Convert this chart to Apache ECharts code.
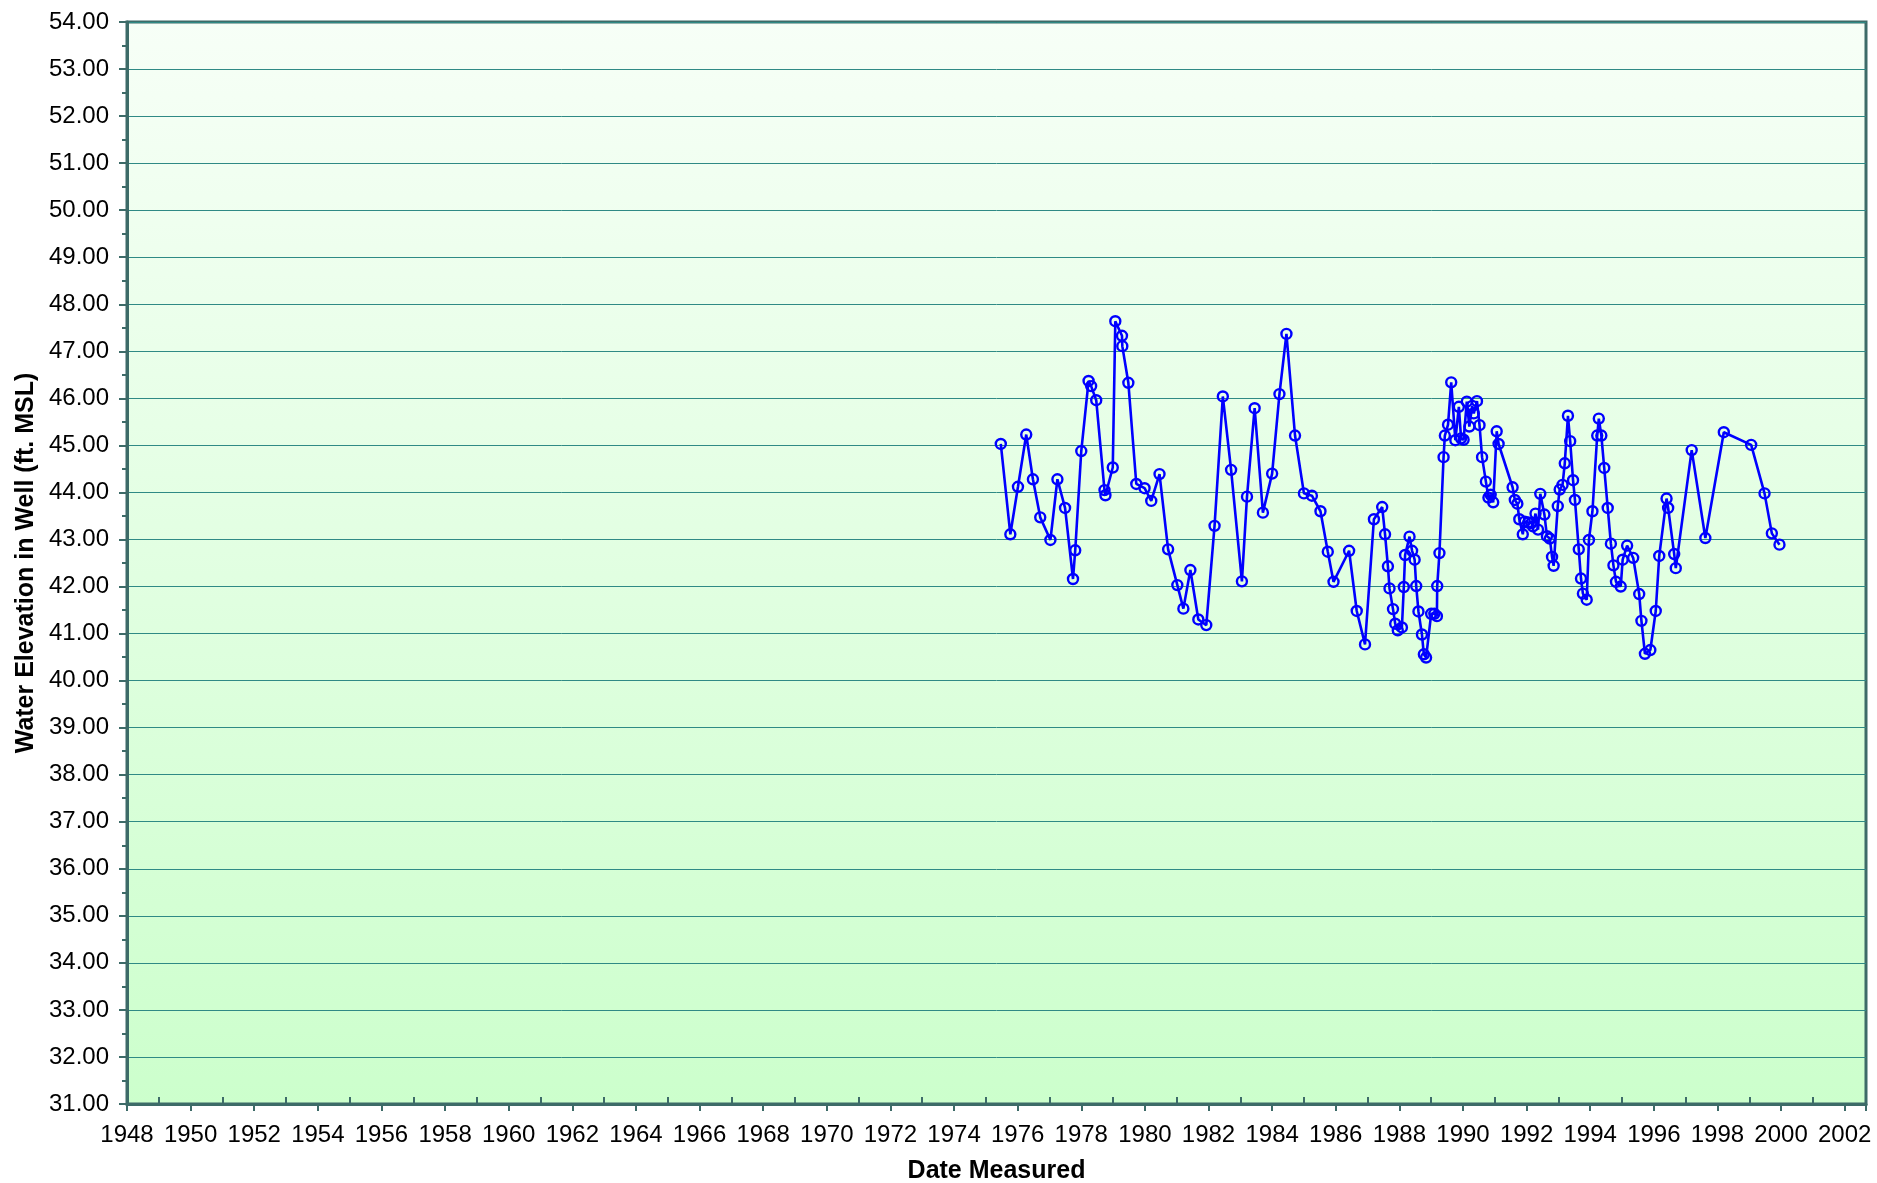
<!DOCTYPE html>
<html>
<head>
<meta charset="utf-8">
<script src="https://cdn.jsdelivr.net/npm/echarts@6/dist/echarts.min.js"></script>
<style>
html,body{margin:0;padding:0;background:#fff;}
#c{width:1877px;height:1183px;}
</style>
</head>
<body>
<div id="c"></div>
<script>
// Decimal year of each measurement
const dates = [
1975.47,1975.77,1976.01,1976.27,1976.48,1976.71,1977.03,1977.25,1977.49,1977.74,
1977.81,1978.00,1978.23,1978.31,1978.47,1978.73,1978.76,1978.99,1979.07,1979.28,
1979.29,1979.48,1979.73,1979.99,1980.20,1980.46,1980.73,1981.02,1981.21,1981.43,
1981.68,1981.93,1982.19,1982.45,1982.71,1983.05,1983.21,1983.45,1983.71,1984.00,
1984.23,1984.45,1984.72,1985.00,1985.25,1985.52,1985.75,1985.93,1986.42,1986.66,
1986.92,1987.20,1987.46,1987.55,1987.64,1987.69,1987.80,1987.87,1987.95,1988.08,
1988.14,1988.18,1988.32,1988.40,1988.48,1988.53,1988.60,1988.71,1988.77,1988.84,
1989.00,1989.10,1989.18,1989.19,1989.26,1989.39,1989.43,1989.53,1989.63,1989.76,
1989.87,1989.94,1990.02,1990.12,1990.20,1990.29,1990.34,1990.44,1990.52,1990.60,
1990.72,1990.80,1990.87,1990.95,1991.06,1991.12,1991.56,1991.63,1991.71,1991.77,
1991.88,1991.94,1992.05,1992.15,1992.20,1992.28,1992.36,1992.43,1992.56,1992.64,
1992.73,1992.80,1992.85,1992.98,1993.04,1993.13,1993.20,1993.30,1993.37,1993.46,
1993.52,1993.64,1993.71,1993.77,1993.89,1993.96,1994.07,1994.22,1994.27,1994.35,
1994.44,1994.55,1994.65,1994.73,1994.81,1994.96,1995.02,1995.16,1995.35,1995.54,
1995.61,1995.72,1995.89,1996.06,1996.17,1996.40,1996.45,1996.64,1996.69,1997.19,
1997.62,1998.20,1999.06,1999.48,1999.71,1999.95
];
// Water elevation (ft. MSL)
const elevations = [
45.03,43.11,44.12,45.23,44.28,43.47,42.99,44.28,43.67,42.16,
42.77,44.88,46.37,46.26,45.96,44.05,43.94,44.53,47.64,47.33,
47.11,46.33,44.18,44.09,43.82,44.39,42.79,42.03,41.53,42.35,
41.30,41.18,43.29,46.04,44.48,42.11,43.91,45.79,43.57,44.40,
46.09,47.37,45.21,43.98,43.93,43.60,42.74,42.10,42.76,41.48,
40.77,43.43,43.69,43.11,42.43,41.96,41.52,41.21,41.07,41.13,
41.99,42.67,43.06,42.76,42.57,42.01,41.47,40.98,40.56,40.49,
41.42,41.42,41.37,42.01,42.71,44.75,45.21,45.44,46.34,45.11,
45.82,45.15,45.12,45.93,45.40,45.84,45.68,45.94,45.43,44.75,
44.23,43.89,43.95,43.79,45.30,45.03,44.11,43.84,43.76,43.43,
43.11,43.38,43.36,43.35,43.28,43.55,43.21,43.97,43.53,43.07,
43.02,42.63,42.44,43.71,44.06,44.16,44.62,45.63,45.09,44.26,
43.84,42.79,42.17,41.85,41.72,42.99,43.60,45.21,45.57,45.21,
44.52,43.67,42.91,42.45,42.10,42.00,42.57,42.87,42.61,41.84,
41.27,40.57,40.65,41.48,42.65,43.87,43.67,42.69,42.39,44.90,
43.03,45.28,45.01,43.98,43.13,42.89
];
const xMin = 1948, xMax = 2002.67, xStep = 2;
const yMin = 31, yMax = 54, yStep = 1;
const xTitle = 'Date Measured';
const yTitle = 'Water Elevation in Well (ft. MSL)';

const points = dates.map((d, i) => [d, elevations[i]]);
const axisColor = '#3d6b68';
const gridColor = '#2f8a85';
const font = 'Liberation Sans, Arial, sans-serif';

const chart = echarts.init(document.getElementById('c'));
chart.setOption({
  animation: false,
  backgroundColor: '#ffffff',
  grid: {
    left: 127, right: 11, top: 22, bottom: 79,
    outerBoundsMode: 'none',
    containLabel: false,
    show: true,
    borderColor: axisColor,
    borderWidth: 3,
    backgroundColor: {
      type: 'linear', x: 0, y: 0, x2: 0, y2: 1,
      colorStops: [
        {offset: 0, color: '#f7fff7'},
        {offset: 1, color: '#ccffcc'}
      ]
    }
  },
  xAxis: [
    {
      type: 'value', min: xMin, max: xMax, interval: xStep,
      position: 'bottom',
      name: xTitle, nameLocation: 'middle', nameGap: 55,
      nameMoveOverlap: false,
      nameTextStyle: {fontFamily: font, fontSize: 25, fontWeight: 'bold', color: '#000'},
      axisLine: {show: true, lineStyle: {color: axisColor, width: 3}},
      axisTick: {show: true, inside: false, length: 7, lineStyle: {color: axisColor, width: 2}},
      axisLabel: {
        margin: 19, fontFamily: font, fontSize: 24, color: '#000',
        formatter: v => (Math.abs(v - Math.round(v)) < 1e-6 ? String(Math.round(v)) : '')
      },
      splitLine: {show: false}
    },
    {
      type: 'value', min: xMin, max: xMax, interval: xStep,
      position: 'bottom',
      axisLine: {show: false},
      axisTick: {show: false, inside: true},
      minorTick: {show: true, splitNumber: 2, length: 7, lineStyle: {color: axisColor, width: 2}},
      axisLabel: {show: false},
      splitLine: {show: false}
    }
  ],
  yAxis: {
    type: 'value', min: yMin, max: yMax, interval: yStep,
    name: yTitle, nameLocation: 'middle', nameGap: 88, nameRotate: 90,
    nameMoveOverlap: false,
    nameTextStyle: {fontFamily: font, fontSize: 25, fontWeight: 'bold', color: '#000'},
    axisLine: {show: true, lineStyle: {color: axisColor, width: 3}},
    axisTick: {show: true, length: 8, lineStyle: {color: axisColor, width: 2}},
    minorTick: {show: true, splitNumber: 2, length: 5, lineStyle: {color: axisColor, width: 2}},
    axisLabel: {
      margin: 18, fontFamily: font, fontSize: 24, color: '#000',
      formatter: v => v.toFixed(2)
    },
    splitLine: {show: true, lineStyle: {color: gridColor, width: 1}}
  },
  series: [{
    type: 'line',
    data: points,
    xAxisIndex: 0,
    symbol: 'circle',
    symbolSize: 10,
    showAllSymbol: true,
    lineStyle: {color: '#0000ff', width: 2.6},
    itemStyle: {color: 'rgba(0,0,0,0)', borderColor: '#0000ff', borderWidth: 2.4}
  }]
});
</script>
</body>
</html>
